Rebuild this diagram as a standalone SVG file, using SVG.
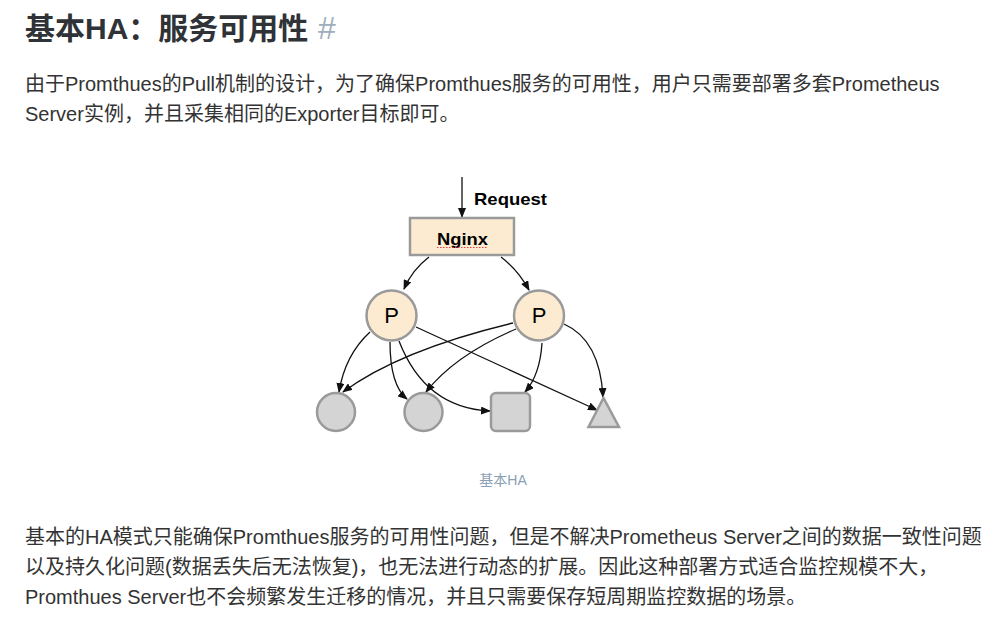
<svg xmlns="http://www.w3.org/2000/svg" width="986" height="631" viewBox="0 0 986 631">
<style>
.t{font-family:"Liberation Sans","Noto Sans CJK SC",sans-serif;fill:#333;}
.h{font-size:30px;font-weight:bold;fill:#2f3337;}
.p{font-size:20px;}
.cap{font-family:"Liberation Sans","Noto Sans CJK SC",sans-serif;font-size:14px;fill:#8aa0b4;}
.lbl{font-family:"Liberation Sans",Arial,sans-serif;font-weight:bold;font-size:17px;fill:#000;}
.pl{font-family:"Liberation Sans",Arial,sans-serif;font-size:22px;fill:#000;}
.warm{fill:#fcebd0;stroke:#9a9a9a;stroke-width:2.5;}
.grey{fill:#d4d4d4;stroke:#9a9a9a;stroke-width:2.5;}
.c{fill:none;stroke:#111;stroke-width:1.3;marker-end:url(#ah);}
</style>
<defs>
<marker id="ah" markerUnits="userSpaceOnUse" markerWidth="10" markerHeight="8" refX="9" refY="4" orient="auto">
<path d="M0,0 L10,4 L0,8 Z" fill="#111"/>
</marker>
</defs>
<rect width="986" height="631" fill="#fff"/>
<text class="t h" x="25" y="39">基本HA：服务可用性</text>
<text x="318" y="39" font-family="Liberation Sans,sans-serif" font-size="32" fill="#9fadbd">#</text>
<text class="t p" x="25" y="91">由于Promthues的Pull机制的设计，为了确保Promthues服务的可用性，用户只需要部署多套Prometheus</text>
<text class="t p" x="25" y="121">Server实例，并且采集相同的Exporter目标即可。</text>

<g id="connectors">
<path class="c" d="M462 177 L462 217"/>
<path class="c" d="M429 257 Q412 270 404 289"/>
<path class="c" d="M501 257 Q518 270 529 290"/>
<path class="c" d="M370 332 Q345 355 339 392"/>
<path class="c" d="M390 342 Q390 385 407 399"/>
<path class="c" d="M399 341 Q425 408 490 411"/>
<path class="c" d="M416 327 L597 410"/>
<path class="c" d="M513 323 Q400 350 343 392"/>
<path class="c" d="M516 329 Q455 355 426 392"/>
<path class="c" d="M542 343 Q540 375 525 392"/>
<path class="c" d="M564 324 Q600 340 603 397"/>
</g>

<text class="lbl" x="474" y="205" textLength="73" lengthAdjust="spacingAndGlyphs">Request</text>

<g id="nginx">
<rect class="warm" x="410" y="218" width="104" height="37"/>
<text class="lbl" x="437" y="245" textLength="51" lengthAdjust="spacingAndGlyphs">Nginx</text>
<line x1="437" y1="247.5" x2="488" y2="247.5" stroke="#e04040" stroke-width="1" stroke-dasharray="1.5 1.5"/>
</g>
<g id="p1">
<circle class="warm" cx="391.5" cy="315.5" r="25"/>
<text class="pl" x="391.5" y="323" text-anchor="middle">P</text>
</g>
<g id="p2">
<circle class="warm" cx="539" cy="315.5" r="25"/>
<text class="pl" x="539" y="323" text-anchor="middle">P</text>
</g>
<g id="target1"><circle class="grey" cx="336" cy="412" r="19"/></g>
<g id="target2"><circle class="grey" cx="423.5" cy="412" r="19"/></g>
<g id="target3"><rect class="grey" x="491" y="393" width="39" height="38" rx="5"/></g>
<g id="target4"><polygon class="grey" points="588.5,427 619,427 603.5,398"/></g>

<text class="cap" x="503" y="485" text-anchor="middle">基本HA</text>

<text class="t p" x="25" y="544">基本的HA模式只能确保Promthues服务的可用性问题，但是不解决Prometheus Server之间的数据一致性问题</text>
<text class="t p" x="25" y="574">以及持久化问题(数据丢失后无法恢复)，也无法进行动态的扩展。因此这种部署方式适合监控规模不大，</text>
<text class="t p" x="25" y="604">Promthues Server也不会频繁发生迁移的情况，并且只需要保存短周期监控数据的场景。</text>
</svg>
